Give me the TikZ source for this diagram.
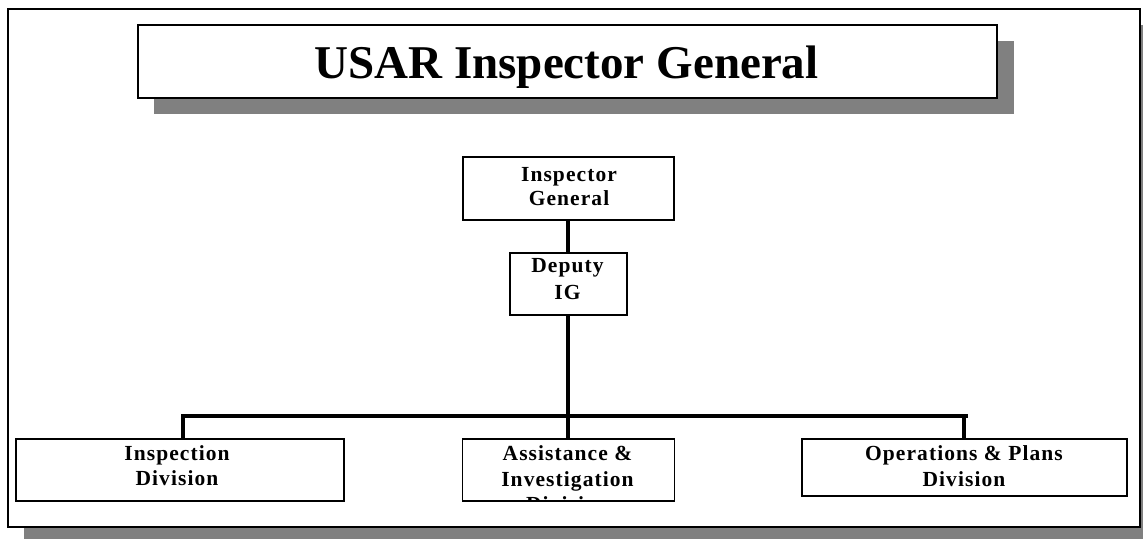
\documentclass[tikz,border=0pt]{standalone}
\usepackage{fontspec}
\setmainfont{Liberation Serif}
\usetikzlibrary{calc}
\begin{document}
\begin{tikzpicture}[x=1pt,y=-1pt,
  box/.style={draw=black, line width=1.5pt, fill=white, inner sep=0pt, anchor=north west},
  bigbox/.style={box, line width=2pt},
  lbl/.style={font=\fontsize{21.5}{24}\selectfont\bfseries\addfontfeature{LetterSpace=5}, anchor=base, inner sep=0pt},
  ttl/.style={font=\fontsize{47}{50}\selectfont\bfseries, anchor=base, inner sep=0pt},
  conn/.style={line width=4pt},
  shadow/.style={fill=black!50, draw=none}]
\useasboundingbox (0,0) rectangle (1143,539);
% outer frame with shadow
\fill[shadow] (24,25) rectangle (1143,539);
\node[bigbox, minimum width=1132pt, minimum height=518pt] (frame) at (7,8) {};
% title with shadow
\fill[shadow] (154,41) rectangle (1014,114);
\node[bigbox, minimum width=859pt, minimum height=73pt] (title) at (137,24) {};
\node[ttl] (titletext) at (566.5,78) {USAR Inspector General};
% boxes
\node[box, minimum width=211pt, minimum height=63pt] (ig) at (462,156) {};
\node[box, minimum width=117pt, minimum height=62pt] (dep) at (509,252) {};
\node[box, minimum width=328pt, minimum height=62pt] (insp) at (15,438) {};
\node[box, minimum width=212pt, minimum height=62pt] (ai) at (461.5,438) {};
\node[box, minimum width=325pt, minimum height=57pt] (ops) at (801,438) {};
% labels
\node[lbl] (ig1) at (569,181) {Inspector};
\node[lbl] (ig2) at (569,205) {General};
\node[lbl] (dep1) at (567.5,272.5) {Deputy};
\node[lbl] (dep2) at (567.5,299) {IG};
\node[lbl] (insp1) at (177,460.5) {Inspection};
\node[lbl] (insp2) at (177,485.5) {Division};
\begin{scope}
\clip (ai.north west) rectangle (ai.south east);
\node[lbl] (ai1) at (567.5,460.5) {Assistance \&};
\node[lbl] (ai2) at (567.5,486) {Investigation};
\node[lbl] (ai3) at (567.5,511) {Division};
\end{scope}
\node[lbl] (ops1) at (964,460.5) {Operations \& Plans};
\node[lbl] (ops2) at (964,486) {Division};
% connectors
\coordinate (busL) at (183,416);
\coordinate (busR) at (968,416);
\coordinate (dropR) at (964,416);
\draw[conn] (ig.south) -- (ig.south |- dep.north);
\draw[conn] (dep.south) -- (dep.south |- ai.north);
\draw[conn] (busL) -- (busR);
\draw[conn] ($(busL)+(0,-2)$) -- (busL |- insp.north);
\draw[conn] (dropR) -- (dropR |- ops.north);
\end{tikzpicture}
\end{document}
